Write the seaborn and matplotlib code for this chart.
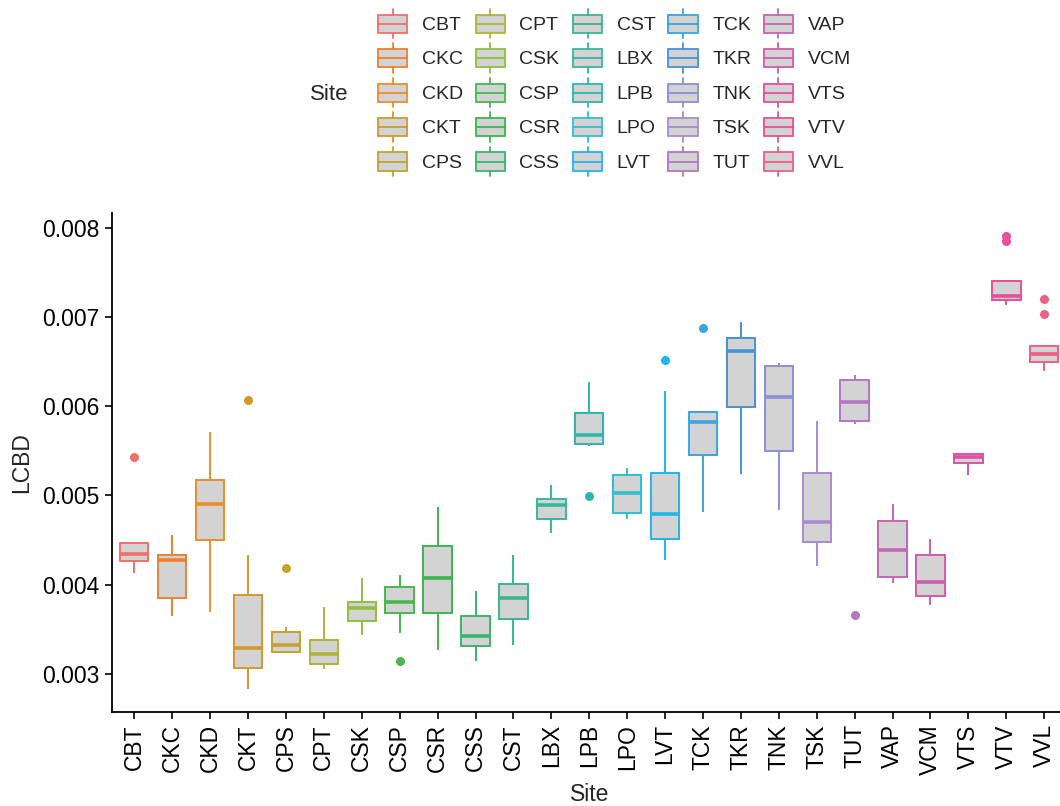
import numpy as np
import pandas as pd
import matplotlib
matplotlib.use("Agg")
import matplotlib.pyplot as plt
import seaborn as sns
from matplotlib.patches import Rectangle, Patch
from matplotlib.lines import Line2D
from matplotlib.legend_handler import HandlerBase

# ---- data (LCBD per site) ----
sites = ["CBT", "CKC", "CKD", "CKT", "CPS", "CPT", "CSK", "CSP", "CSR", "CSS",
         "CST", "LBX", "LPB", "LPO", "LVT", "TCK", "TKR", "TNK", "TSK", "TUT",
         "VAP", "VCM", "VTS", "VTV", "VVL"]

cbt = [0.00413, 0.00426, 0.00434, 0.00447, 0.00543]
ckc = [0.00365, 0.00385, 0.00428, 0.00433, 0.00456]
ckd = [0.00369, 0.00450, 0.00490, 0.00517, 0.00571]
ckt = [0.00283, 0.00300, 0.00307, 0.00318, 0.00329, 0.00352, 0.00388, 0.00433, 0.00607]
cps = [0.00323, 0.00324, 0.00325, 0.00329, 0.00332, 0.00340, 0.00347, 0.00352, 0.00419]
cpt = [0.00305, 0.00311, 0.00322, 0.00338, 0.00375]
csk = [0.00344, 0.00359, 0.00374, 0.00381, 0.00408]
csp = [0.00314, 0.00346, 0.00368, 0.00375, 0.00381, 0.00390, 0.00397, 0.00404, 0.00411]
csr = [0.00327, 0.00368, 0.00407, 0.00443, 0.00487]
css = [0.00314, 0.00331, 0.00343, 0.00365, 0.00393]
cst = [0.00332, 0.00361, 0.00385, 0.00401, 0.00433]
lbx = [0.00458, 0.00474, 0.00489, 0.00496, 0.00512]
lpb = [0.00499, 0.00556, 0.00558, 0.00563, 0.00568, 0.00580, 0.00593, 0.00610, 0.00627]
lpo = [0.00474, 0.00480, 0.00503, 0.00523, 0.00531]
lvt = [0.00428, 0.00440, 0.00451, 0.00465, 0.00479, 0.00500, 0.00525, 0.00617, 0.00652]
tck = [0.00482, 0.00520, 0.00545, 0.00570, 0.00582, 0.00590, 0.00594, 0.00594, 0.00688]
tkr = [0.00524, 0.00599, 0.00662, 0.00677, 0.00695]
tnk = [0.00484, 0.00550, 0.00610, 0.00645, 0.00648]
tsk = [0.00421, 0.00448, 0.00470, 0.00525, 0.00584]
tut = [0.00366, 0.00580, 0.00583, 0.00595, 0.00605, 0.00618, 0.00629, 0.00632, 0.00635]
vap = [0.00402, 0.00409, 0.00439, 0.00471, 0.00490]
vcm = [0.00377, 0.00387, 0.00403, 0.00433, 0.00451]
vts = [0.00523, 0.00536, 0.00543, 0.00547, 0.00547]
vtv = [0.00713, 0.00716, 0.00719, 0.00722, 0.00724, 0.00735, 0.00741, 0.00785, 0.00791]
vvl = [0.00640, 0.00645, 0.00650, 0.00655, 0.00659, 0.00664, 0.00668, 0.00703, 0.00720]

valores = [cbt, ckc, ckd, ckt, cps, cpt, csk, csp, csr, css, cst, lbx, lpb, lpo,
           lvt, tck, tkr, tnk, tsk, tut, vap, vcm, vts, vtv, vvl]

df = pd.DataFrame({
    "Site": np.repeat(sites, [len(v) for v in valores]),
    "LCBD": np.concatenate(valores),
})

# colores de contorno
colores = ["#F0706C", "#EE8030", "#EA8F2A", "#D5972A", "#C2A32E",
           "#B0B43A", "#8EBF3F", "#48B84C", "#3DB550", "#3BB46C",
           "#3CB58A", "#38B6A0", "#2BB8B2", "#33BDD0", "#22B4EA",
           "#3AA4E4", "#4592DA", "#8A8FD6", "#A98AD0", "#B476C2",
           "#C268B4", "#CE5CAC", "#DC52A2", "#E84F96", "#EE5E86"]
gris = "#D3D3D3"
n = len(sites)

# ---- figura ----
sns.set_style("ticks")
plt.rcParams["font.family"] = ["Liberation Sans", "DejaVu Sans"]

fig = plt.figure(figsize=(10.6, 8.06), dpi=100)
ax = fig.add_axes([0.1052, 0.117, 0.9014, 0.6184])

sns.boxplot(data=df, x="Site", y="LCBD", hue="Site", order=sites, hue_order=sites,
            palette=colores, width=0.75, linewidth=1.4, showcaps=False,
            medianprops={"linewidth": 2.6},
            flierprops={"marker": "o", "markersize": 6.5, "markeredgewidth": 0},
            legend=False, ax=ax)

# relleno gris y contorno de color (como ggplot)
for cont, col in zip(ax.containers, colores):
    for b in cont.boxes:
        b.set_facecolor(gris)
        b.set_edgecolor(col)
    for l in list(cont.medians) + list(cont.whiskers):
        l.set_color(col)
    for f in cont.fliers:
        f.set_markerfacecolor(col)
        f.set_markeredgecolor(col)

ymin, ymax = df["LCBD"].min(), df["LCBD"].max()
rango = ymax - ymin
ax.set_ylim(ymin - 0.05 * rango, ymax + 0.05 * rango)
ax.set_xlim(-0.6, n - 0.4)
ax.set_yticks([0.003, 0.004, 0.005, 0.006, 0.007, 0.008])
ax.set_yticklabels(["0.003", "0.004", "0.005", "0.006", "0.007", "0.008"])
ax.tick_params(axis="x", labelrotation=90)
ax.tick_params(length=5, width=1.2, color="black", labelsize=16.5, labelcolor="black", pad=4)
ax.set_xlabel("Site", fontsize=16.5, labelpad=6)
ax.set_ylabel("LCBD", fontsize=16.5, labelpad=6)
sns.despine(ax=ax)
for s in ["left", "bottom"]:
    ax.spines[s].set_linewidth(1.3)
    ax.spines[s].set_color("black")

# ---- leyenda con llaves de boxplot ----
class BoxKey(HandlerBase):
    def create_artists(self, legend, orig_handle, xdescent, ydescent, width, height, fontsize, trans):
        c = orig_handle.get_edgecolor()
        x0, y0 = -xdescent, -ydescent
        bh = height * 0.62
        pad = (height - bh) / 2
        rect = Rectangle((x0, y0 + pad), width, bh, facecolor=gris, edgecolor=c, lw=1.3, transform=trans)
        med = Line2D([x0, x0 + width], [y0 + height / 2] * 2, color=c, lw=1.3, transform=trans)
        w1 = Line2D([x0 + width / 2] * 2, [y0, y0 + pad], color=c, lw=1.3, transform=trans)
        w2 = Line2D([x0 + width / 2] * 2, [y0 + height - pad, y0 + height], color=c, lw=1.3, transform=trans)
        return [rect, med, w1, w2]

handles = [Patch(facecolor=gris, edgecolor=c) for c in colores]
fig.legend(handles, sites, ncol=5, loc="upper left",
           bbox_to_anchor=(378 / 1060, 1 - 9 / 806), frameon=False,
           fontsize=14, handlelength=1.5, handleheight=1.95, handletextpad=0.75,
           labelspacing=0.26, columnspacing=0.65, borderpad=0, borderaxespad=0,
           handler_map={Patch: BoxKey()})
fig.text(310 / 1060, 1 - 95 / 806, "Site", fontsize=16, ha="left", va="center")

fig.savefig("out.png", dpi=100)
